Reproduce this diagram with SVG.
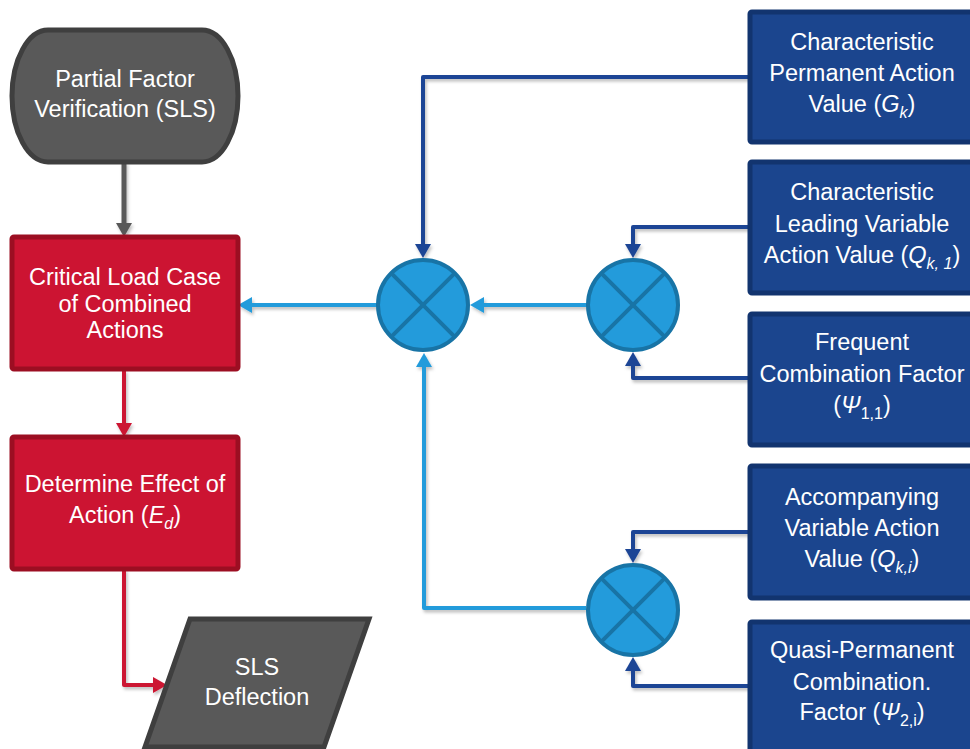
<svg xmlns="http://www.w3.org/2000/svg" width="970" height="749" viewBox="0 0 970 749">
<defs>
<style>
text{font-family:"Liberation Sans",Arial,sans-serif;font-size:23.5px;fill:#ffffff;text-anchor:middle}
.it{font-style:italic}
.sub{font-size:16px}
.gray{fill:#595959;stroke:#3f3f3f;stroke-width:5}
.red{fill:#cc1432;stroke:#9c0e22;stroke-width:5}
.blue{fill:#1b458e;stroke:#12346f;stroke-width:5}
.circ{fill:#239bdb;stroke:#1874a6;stroke-width:4}
.cx{stroke:#1874a6;stroke-width:4;fill:none}
.c{fill:none;stroke-width:4;stroke-linejoin:round}
.cg{stroke:#595959;stroke-width:5;marker-end:url(#ag)}
.cr{stroke:#cc1432;marker-end:url(#ar)}
.cl{stroke:#239bdb;marker-end:url(#al)}
.cd{stroke:#1d4595;marker-end:url(#ad)}
</style>
<marker id="ag" markerUnits="userSpaceOnUse" viewBox="0 0 14 16" markerWidth="14" markerHeight="16" refX="4" refY="8" orient="auto"><path d="M0,0 L14,8 L0,16 Z" fill="#595959"/></marker>
<marker id="ar" markerUnits="userSpaceOnUse" viewBox="0 0 14 16" markerWidth="14" markerHeight="16" refX="4" refY="8" orient="auto"><path d="M0,0 L14,8 L0,16 Z" fill="#cc1432"/></marker>
<marker id="al" markerUnits="userSpaceOnUse" viewBox="0 0 14 16" markerWidth="14" markerHeight="16" refX="4" refY="8" orient="auto"><path d="M0,0 L14,8 L0,16 Z" fill="#239bdb"/></marker>
<marker id="ad" markerUnits="userSpaceOnUse" viewBox="0 0 14 16" markerWidth="14" markerHeight="16" refX="4" refY="8" orient="auto"><path d="M0,0 L14,8 L0,16 Z" fill="#1d4595"/></marker>
<filter id="sh" x="-10%" y="-10%" width="120%" height="120%"><feDropShadow dx="1.5" dy="2.5" stdDeviation="1.8" flood-color="#000" flood-opacity="0.25"/></filter>
</defs>

<g id="connectors" filter="url(#sh)">
<path class="c cg" d="M124,162 V227"/>
<path class="c cr" d="M124,370 V427"/>
<path class="c cr" d="M124,569 V685 H157"/>
<path class="c cl" d="M377,305 H248"/>
<path class="c cl" d="M587,305 H480"/>
<path class="c cl" d="M586,608 H424 V363"/>
<path class="c cd" d="M750,77 H423 V248"/>
<path class="c cd" d="M750,227 H633 V248"/>
<path class="c cd" d="M750,378 H633 V362"/>
<path class="c cd" d="M750,532 H633 V553"/>
<path class="c cd" d="M750,686 H633 V667"/>
</g>

<g id="start">
<path class="gray" d="M48,30 H202 A36,66 0 0 1 202,162 H48 A36,66 0 0 1 48,30 Z"/>
<text x="125" y="87">Partial Factor</text>
<text x="125" y="117">Verification (SLS)</text>
</g>

<g id="critical">
<rect class="red" x="12" y="237" width="226" height="132" rx="2"/>
<text x="125" y="285">Critical Load Case</text>
<text x="125" y="312">of Combined</text>
<text x="125" y="338">Actions</text>
</g>

<g id="effect">
<rect class="red" x="12" y="437" width="226" height="132" rx="2"/>
<text x="125" y="492">Determine Effect of</text>
<text x="125" y="523">Action (<tspan class="it">E</tspan><tspan class="it sub" dy="6">d</tspan><tspan dy="-6">)</tspan></text>
</g>

<g id="deflection">
<path class="gray" d="M190,619 H369 L324,747 H145 Z"/>
<text x="257" y="675">SLS</text>
<text x="257" y="705">Deflection</text>
</g>

<g id="mult1">
<circle class="circ" cx="423" cy="305" r="45"/>
<path class="cx" d="M391.2,273.2 L454.8,336.8 M454.8,273.2 L391.2,336.8"/>
</g>
<g id="mult2">
<circle class="circ" cx="633" cy="305" r="45"/>
<path class="cx" d="M601.2,273.2 L664.8,336.8 M664.8,273.2 L601.2,336.8"/>
</g>
<g id="mult3">
<circle class="circ" cx="633" cy="610" r="45"/>
<path class="cx" d="M601.2,578.2 L664.8,641.8 M664.8,578.2 L601.2,641.8"/>
</g>

<g id="gk">
<rect class="blue" x="750" y="12" width="226" height="130" rx="2"/>
<text x="862" y="50">Characteristic</text>
<text x="862" y="81">Permanent Action</text>
<text x="862" y="112">Value (<tspan class="it">G</tspan><tspan class="it sub" dy="6">k</tspan><tspan dy="-6">)</tspan></text>
</g>

<g id="qk1">
<rect class="blue" x="750" y="162" width="226" height="131" rx="2"/>
<text x="862" y="200">Characteristic</text>
<text x="862" y="232">Leading Variable</text>
<text x="862" y="263">Action Value (<tspan class="it">Q</tspan><tspan class="it sub" dy="6">k, 1</tspan><tspan dy="-6">)</tspan></text>
</g>

<g id="psi11">
<rect class="blue" x="750" y="314" width="226" height="131" rx="2"/>
<text x="862" y="350">Frequent</text>
<text x="862" y="382">Combination Factor</text>
<text x="862" y="413">(<tspan class="it">Ψ</tspan><tspan class="sub" dy="6">1,1</tspan><tspan dy="-6">)</tspan></text>
</g>

<g id="qki">
<rect class="blue" x="750" y="466" width="226" height="132" rx="2"/>
<text x="862" y="505">Accompanying</text>
<text x="862" y="536">Variable Action</text>
<text x="862" y="567">Value (<tspan class="it">Q</tspan><tspan class="it sub" dy="6">k,i</tspan><tspan dy="-6">)</tspan></text>
</g>

<g id="psi2i">
<rect class="blue" x="750" y="622" width="226" height="140" rx="2"/>
<text x="862" y="658">Quasi-Permanent</text>
<text x="862" y="690">Combination.</text>
<text x="862" y="720">Factor (<tspan class="it">Ψ</tspan><tspan class="sub" dy="6">2,i</tspan><tspan dy="-6">)</tspan></text>
</g>
</svg>
